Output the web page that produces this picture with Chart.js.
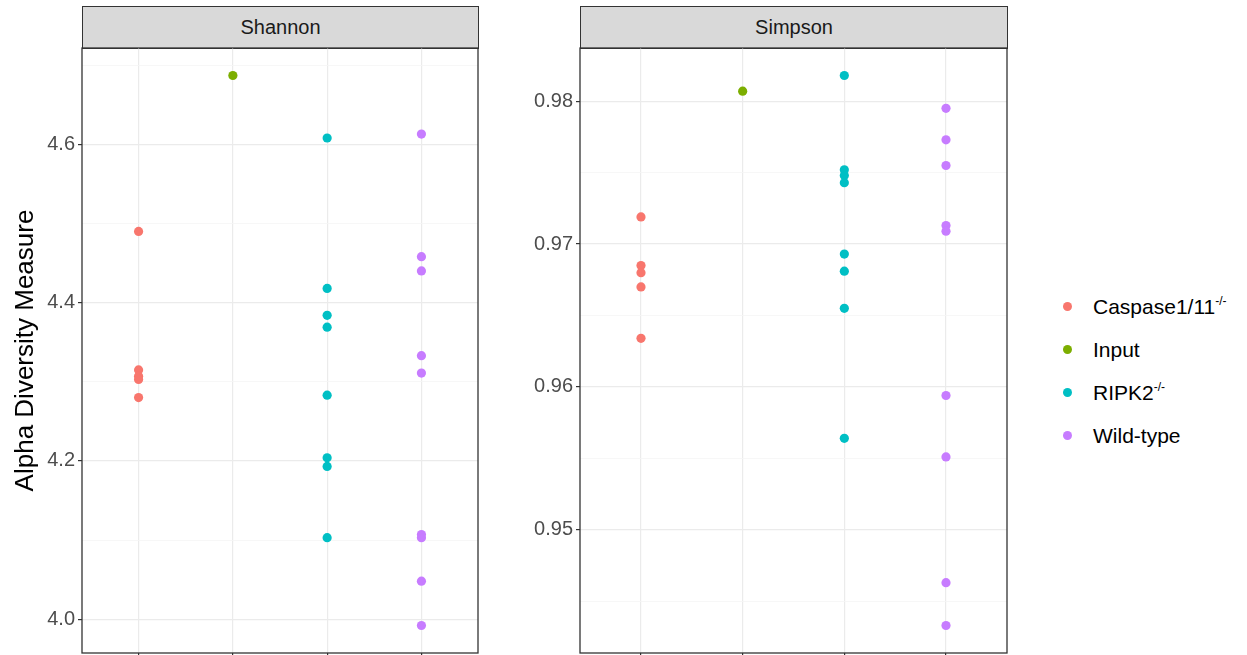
<!DOCTYPE html>
<html>
<head>
<meta charset="utf-8">
<script src="https://cdn.jsdelivr.net/npm/chart.js@4"></script>
<style>
  body { margin: 0; background: #fff; font-family: 'Liberation Sans', Arial, sans-serif; }
  #wrap { position: relative; width: 1247px; height: 655px; overflow: hidden; }
  canvas { position: absolute; }
  .strip { position: absolute; top: 6px; height: 43px; background: #d9d9d9; border: 1.3px solid #333;
           box-sizing: border-box; text-align: center; line-height: 41px; font-size: 20px; color: #1a1a1a; }
  #legend { position: absolute; left: 1062px; top: 289px; }
  .item { position: relative; height: 43px; font-size: 21px; color: #000; line-height: 36px; padding-left: 31px; }
  .dot { position: absolute; left: 1px; top: 13px; width: 9px; height: 9px; border-radius: 50%; }
  sup { font-size: 12px; vertical-align: 9px; line-height: 0; }
</style>
</head>
<body>
<div id="wrap">
  <div class="strip" style="left:82px;width:397px;">Shannon</div>
  <div class="strip" style="left:580px;width:428px;">Simpson</div>
  <canvas id="shannon"></canvas>
  <canvas id="simpson"></canvas>
  <div id="legend"></div>
</div>
<script>
const groups = ['Caspase1/11', 'Input', 'RIPK2', 'Wild-type'];
const groupSup = ['-/-', '', '-/-', ''];
const colors = ['#F8766D', '#7CAE00', '#00BFC4', '#C77CFF'];

const shannonCaspase = [4.490, 4.315, 4.307, 4.303, 4.280];
const shannonInput = [4.687];
const shannonRipk2 = [4.608, 4.418, 4.384, 4.369, 4.283, 4.204, 4.193, 4.103];
const shannonWildtype = [4.613, 4.458, 4.440, 4.333, 4.311, 4.107, 4.103, 4.048, 3.992];

const simpsonCaspase = [0.9719, 0.9685, 0.9680, 0.9670, 0.9634];
const simpsonInput = [0.9807];
const simpsonRipk2 = [0.9818, 0.9752, 0.9748, 0.9743, 0.9693, 0.9681, 0.9655, 0.9564];
const simpsonWildtype = [0.9795, 0.9773, 0.9755, 0.9713, 0.9709, 0.9594, 0.9551, 0.9463, 0.9433];

const shannonTicks = [4.0, 4.2, 4.4, 4.6];
const shannonMinor = [4.1, 4.3, 4.5, 4.7];
const simpsonTicks = [0.95, 0.96, 0.97, 0.98];
const simpsonMinor = [0.945, 0.955, 0.965, 0.975];

const FONT = "'Liberation Sans', Arial, sans-serif";

// panel border like ggplot theme_bw
const panelBorder = {
  id: 'panelBorder',
  afterDraw(chart) {
    const a = chart.chartArea, ctx = chart.ctx;
    ctx.save();
    ctx.strokeStyle = '#333';
    ctx.lineWidth = 1.3;
    ctx.strokeRect(a.left, a.top, a.right - a.left, a.bottom - a.top);
    ctx.restore();
  }
};

function makePanel(id, series, ticks, minor, decimals, axisWidth, withTitle, left, width) {
  const canvas = document.getElementById(id);
  canvas.style.left = left + 'px';
  canvas.style.top = '47px';
  canvas.width = width;
  canvas.height = 612;

  const all = series.flat();
  const lo = Math.min(...all), hi = Math.max(...all);
  const pad = (hi - lo) * 0.05;
  const isMajor = v => ticks.some(t => Math.abs(t - v) < 1e-9);

  new Chart(canvas, {
    type: 'scatter',
    data: {
      datasets: series.map((vals, i) => ({
        label: groups[i],
        data: vals.map(v => ({ x: i + 1, y: v })),
        backgroundColor: colors[i],
        borderWidth: 0,
        pointRadius: 4.6,
        pointHoverRadius: 4.6
      }))
    },
    options: {
      responsive: false,
      animation: false,
      events: [],
      layout: { autoPadding: false, padding: { top: 1, right: 1, left: 0, bottom: 0 } },
      plugins: { legend: { display: false }, tooltip: { enabled: false } },
      scales: {
        x: {
          type: 'linear',
          min: 0.4,
          max: 4.6,
          afterBuildTicks: s => { s.ticks = groups.map((g, i) => ({ value: i + 1 })); },
          afterFit: s => { s.height = 6; s.paddingLeft = 0; s.paddingRight = 0; },
          ticks: { display: false },
          border: { display: false },
          grid: { color: '#ebebeb', lineWidth: 1.2, tickColor: '#333', tickLength: 4 }
        },
        y: {
          min: lo - pad,
          max: hi + pad,
          afterBuildTicks: s => {
            s.ticks = ticks.concat(minor).sort((a, b) => a - b).map(v => ({ value: v }));
          },
          afterFit: s => { s.width = axisWidth; s.paddingTop = 0; s.paddingBottom = 0; },
          border: { display: false },
          ticks: {
            color: '#4d4d4d',
            font: { family: FONT, size: 20 },
            padding: 3,
            callback: v => isMajor(v) ? v.toFixed(decimals) : ''
          },
          grid: {
            color: c => isMajor(c.tick.value) ? '#ebebeb' : '#f5f5f5',
            lineWidth: c => isMajor(c.tick.value) ? 1.2 : 0.8,
            tickColor: c => isMajor(c.tick.value) ? '#333' : 'rgba(0,0,0,0)',
            tickLength: 4
          },
          title: {
            display: withTitle,
            text: 'Alpha Diversity Measure',
            color: '#000',
            font: { family: FONT, size: 26 },
            padding: { top: 10, bottom: 0 }
          }
        }
      }
    },
    plugins: [panelBorder]
  });
}

makePanel('shannon', [shannonCaspase, shannonInput, shannonRipk2, shannonWildtype],
  shannonTicks, shannonMinor, 1, 82, true, 0, 479);
makePanel('simpson', [simpsonCaspase, simpsonInput, simpsonRipk2, simpsonWildtype],
  simpsonTicks, simpsonMinor, 2, 100, false, 480, 528);

const legend = document.getElementById('legend');
groups.forEach((g, i) => {
  const row = document.createElement('div');
  row.className = 'item';
  row.innerHTML = `<span class="dot" style="background:${colors[i]}"></span>${g}` +
    (groupSup[i] ? `<sup>${groupSup[i]}</sup>` : '');
  legend.appendChild(row);
});
</script>
</body>
</html>
